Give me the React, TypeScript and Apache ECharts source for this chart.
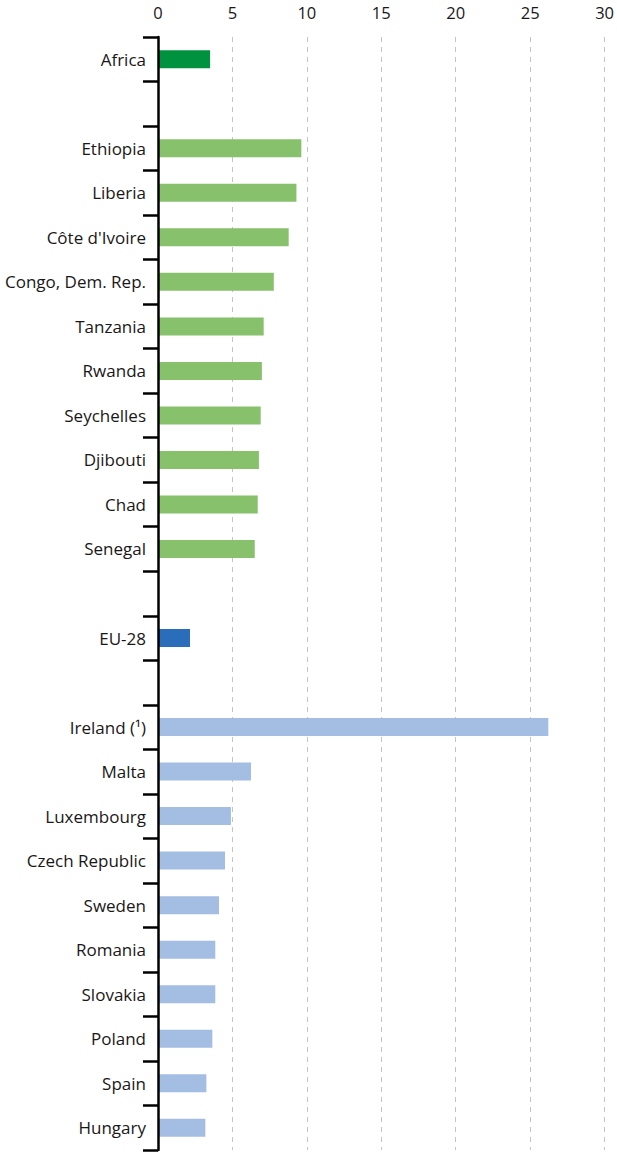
import React, { useEffect, useRef } from "react";
import * as echarts from "echarts";

const africaLabel = "Africa";
const africaValue = 3.5;

const africanCountries = [
  "Ethiopia",
  "Liberia",
  "Côte d'Ivoire",
  "Congo, Dem. Rep.",
  "Tanzania",
  "Rwanda",
  "Seychelles",
  "Djibouti",
  "Chad",
  "Senegal",
];
const africanValues = [9.63, 9.3, 8.78, 7.78, 7.1, 6.98, 6.9, 6.78, 6.7, 6.5];

const euLabel = "EU-28";
const euValue = 2.15;

const euCountries = [
  "Ireland (¹)",
  "Malta",
  "Luxembourg",
  "Czech Republic",
  "Sweden",
  "Romania",
  "Slovakia",
  "Poland",
  "Spain",
  "Hungary",
];
const euValues = [26.22, 6.25, 4.9, 4.5, 4.1, 3.85, 3.85, 3.65, 3.25, 3.18];

const xTicks = [0, 5, 10, 15, 20, 25, 30];

const COLORS = {
  africa: "#00923F",
  africanCountry: "#88C16C",
  eu: "#2A6EBB",
  euCountry: "#A3BDE3",
};

export default function App() {
  const ref = useRef<HTMLDivElement>(null);

  useEffect(() => {
    if (!ref.current) return;
    const chart = echarts.init(ref.current, undefined, { renderer: "svg" });

    const categories: string[] = [];
    const data: any[] = [];
    const push = (name: string, value: number | null, color?: string) => {
      categories.push(name);
      if (value === null) data.push("-");
      else data.push({ value, itemStyle: { color } });
    };

    push(africaLabel, africaValue, COLORS.africa);
    push("", null);
    africanCountries.forEach((n, i) => push(n, africanValues[i], COLORS.africanCountry));
    push("", null);
    push(euLabel, euValue, COLORS.eu);
    push("", null);
    euCountries.forEach((n, i) => push(n, euValues[i], COLORS.euCountry));

    const font = "'Open Sans', 'Noto Sans', sans-serif";

    chart.setOption({
      animation: false,
      grid: { left: 158, right: 9, top: 37, bottom: 2, containLabel: false },
      xAxis: {
        type: "value",
        position: "top",
        min: xTicks[0],
        max: xTicks[xTicks.length - 1],
        interval: 5,
        axisLine: { show: false },
        axisTick: { show: false },
        axisLabel: {
          color: "#1A1718",
          fontFamily: font,
          fontSize: 16.5,
          margin: 16,
        },
        splitLine: {
          show: true,
          lineStyle: { color: "#C4C4C4", width: 1, type: [5, 5] },
        },
      },
      yAxis: {
        type: "category",
        inverse: true,
        data: categories,
        z: 5,
        axisLine: { show: true, lineStyle: { color: "#000000", width: 2.5 } },
        axisTick: {
          show: true,
          length: 15,
          lineStyle: { color: "#000000", width: 2.5 },
        },
        axisLabel: {
          color: "#1A1718",
          fontFamily: font,
          fontSize: 17,
          margin: 12,
          interval: 0,
        },
        splitLine: { show: false },
      },
      series: [
        {
          type: "bar",
          data,
          barWidth: 18,
          z: 2,
        },
      ],
    });

    return () => chart.dispose();
  }, []);

  return (
    <div
      ref={ref}
      style={{ position: "absolute", left: 0, top: 0, width: 617, height: 1152 }}
    />
  );
}
